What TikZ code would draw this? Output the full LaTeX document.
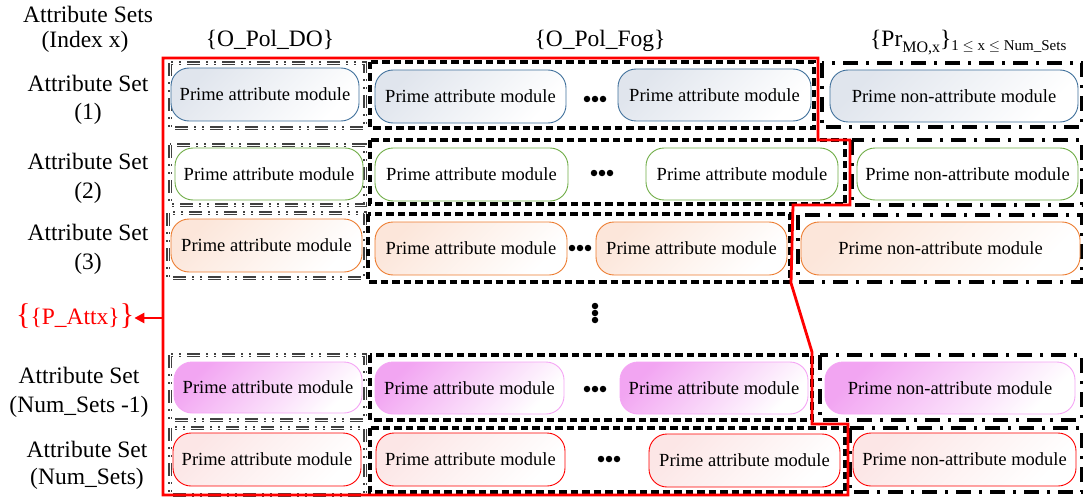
\documentclass[tikz,border=0pt]{standalone}
\usepackage{fontspec}
\setmainfont{Liberation Serif}
\usetikzlibrary{arrows.meta}

% outline and fill colours of the module rows
\definecolor{bdBlue}{RGB}{65,113,156}
\definecolor{fiBlue}{RGB}{224,229,237}
\definecolor{bdGreen}{RGB}{112,173,71}
\definecolor{bdOrange}{RGB}{237,125,49}
\definecolor{fiOrange}{RGB}{252,230,218}
\definecolor{bdPink}{RGB}{245,165,245}
\definecolor{fiPink}{RGB}{242,165,242}
\definecolor{bdRed}{RGB}{255,0,0}
\definecolor{fiRed}{RGB}{252,230,230}

\newcommand{\lblfont}{\fontsize{23.5}{28}\selectfont}
\newcommand{\modfont}{\fontsize{18.5}{22}\selectfont}

\tikzset{
  lbl/.style={anchor=base, inner sep=0pt, font=\lblfont},
  sz/.style 2 args={minimum width=#1pt, minimum height=#2pt},
  mod/.style={rectangle, rounded corners=18pt, line width=0.9pt, inner sep=0pt, font=\modfont},
  % tint fading from the upper left towards the lower right
  tint/.style 2 args={top color=#1, middle color=#2, bottom color=white, shading angle=45},
  rowA/.style={mod, draw=bdBlue, tint={fiBlue}{fiBlue!45!white}},
  rowB/.style={mod, draw=bdGreen, fill=white},
  rowC/.style={mod, draw=bdOrange, tint={fiOrange}{fiOrange!30!white}},
  rowD/.style={mod, draw=bdPink, tint={fiPink}{white}},
  rowE/.style={mod, draw=bdRed, tint={fiRed}{fiRed!30!white}},
  dobox/.style={draw=black!75, line width=1.7pt, double=white, double distance=0.9pt,
                dash pattern=on 13pt off 6pt on 2pt off 6pt on 2pt off 6pt},
  fogbox/.style={draw=black, line width=3.2pt, dash pattern=on 7.5pt off 4pt},
  prbox/.style={draw=black, line width=3.2pt, dash pattern=on 15pt off 8pt on 3pt off 8pt},
  redline/.style={draw=red, line width=2.8pt, line join=miter},
  dotmark/.style={circle, fill=black, inner sep=0pt, minimum size=6.5pt},
}

\begin{document}
\begin{tikzpicture}[x=1pt,y=-1pt]
\useasboundingbox (0,0) rectangle (1083,500);

% ---------- row labels ----------
\node[lbl] (ls0a) at (88,23)  {Attribute Sets};
\node[lbl] (ls0b) at (85,48)  {(Index x)};
\node[lbl] (ls1a) at (88,92)  {Attribute Set};
\node[lbl] (ls1b) at (88,120) {(1)};
\node[lbl] (ls2a) at (88,169) {Attribute Set};
\node[lbl] (ls2b) at (88,198) {(2)};
\node[lbl] (ls3a) at (88,240) {Attribute Set};
\node[lbl] (ls3b) at (88,269) {(3)};
\node[lbl] (ls4a) at (79,383) {Attribute Set};
\node[lbl] (ls4b) at (79,412) {(Num\_Sets -1)};
\node[lbl] (ls5a) at (87,457) {Attribute Set};
\node[lbl] (ls5b) at (87,484) {(Num\_Sets)};

% ---------- column headers ----------
\node[lbl] (hdo)  at (270,47) {\{O\_Pol\_DO\}};
\node[lbl] (hfog) at (600,47) {\{O\_Pol\_Fog\}};
\node[lbl, anchor=base west] (hpr) at (870,47)
  {\{Pr\raisebox{-6pt}{\fontsize{16}{16}\selectfont MO,x}\}\raisebox{-4pt}{\fontsize{15}{15}\selectfont 1 $\le$ x $\le$ Num\_Sets}};

% ---------- group frames ----------
\draw[dobox]  (170,63)  rectangle (365,128);
\draw[fogbox] (370,62)  rectangle (814,128);
\draw[prbox]  (822,63)  rectangle (1082,127);

\draw[dobox]  (170,145) rectangle (365,205);
\draw[fogbox] (370,140) rectangle (845,204);
\draw[prbox]  (852,140) rectangle (1082,205);

\draw[dobox]  (168,213) rectangle (365,278);
\draw[fogbox] (368,214) rectangle (790,282);
\draw[prbox]  (798,215) rectangle (1082,282);

\draw[dobox]  (170,355) rectangle (365,420);
\draw[fogbox] (370,355) rectangle (812,420);
\draw[prbox]  (820,355) rectangle (1082,420);

\draw[dobox]  (170,428) rectangle (365,495);
\draw[fogbox] (370,428) rectangle (845,492);
\draw[prbox]  (850,428) rectangle (1082,492);

% ---------- modules ----------
\node[rowA, sz={188}{53}] (m1a) at (265,94.5)   {Prime attribute module};
\node[rowA, sz={191}{53}] (m1b) at (470.5,96.5) {Prime attribute module};
\node[rowA, sz={193}{52}] (m1c) at (714.5,95)   {Prime attribute module};
\node[rowA, sz={248}{52}] (m1d) at (954,96)     {Prime non-attribute module};

\node[rowB, sz={188}{52}] (m2a) at (269,174)     {Prime attribute module};
\node[rowB, sz={193}{53}] (m2b) at (471.5,174.5) {Prime attribute module};
\node[rowB, sz={192}{52}] (m2c) at (742,174)     {Prime attribute module};
\node[rowB, sz={221}{52}] (m2d) at (967.5,174)   {Prime non-attribute module};

\node[rowC, sz={191}{53}] (m3a) at (266.5,245.5) {Prime attribute module};
\node[rowC, sz={192}{53}] (m3b) at (471,248.5)   {Prime attribute module};
\node[rowC, sz={191}{53}] (m3c) at (691.5,248.5) {Prime attribute module};
\node[rowC, sz={279}{53}] (m3d) at (940.5,248.5) {Prime non-attribute module};

\node[rowD, sz={188}{51}] (m4a) at (268,387.5) {Prime attribute module};
\node[rowD, sz={189}{52}] (m4b) at (469.5,388) {Prime attribute module};
\node[rowD, sz={188}{52}] (m4c) at (714,388)   {Prime attribute module};
\node[rowD, sz={250}{52}] (m4d) at (950,388)   {Prime non-attribute module};

\node[rowE, sz={188}{53}] (m5a) at (267,459.5)   {Prime attribute module};
\node[rowE, sz={189}{53}] (m5b) at (470.5,459.5) {Prime attribute module};
\node[rowE, sz={191}{53}] (m5c) at (744.5,460.5) {Prime attribute module};
\node[rowE, sz={223}{53}] (m5d) at (964.5,459.5) {Prime non-attribute module};

% ---------- ellipsis marks ----------
\foreach \x/\y/\n in {587/99/1, 594/173/2, 572/248/3, 587/389/4, 601/459/5}{
  \node[dotmark] (e\n a) at (\x,\y) {};
  \node[dotmark] (e\n b) at (\x+8,\y) {};
  \node[dotmark] (e\n c) at (\x+16,\y) {};
}
\node[dotmark] (va) at (595,306) {};
\node[dotmark] (vb) at (595,313) {};
\node[dotmark] (vc) at (595,320) {};

% ---------- selection outline and its label ----------
\draw[redline] (163,58) -- (818,58) -- (818,140) -- (850,140) -- (850,205)
  -- (793,205) -- (791,283) -- (812,352) -- (812,424) -- (848,424)
  -- (848,495) -- (163,495) -- cycle;
\node[lbl, anchor=base west, text=red] (pattx) at (16,324)
  {{\fontsize{30}{30}\selectfont\{}\{P\_Attx\}{\fontsize{30}{30}\selectfont\}}};
\coordinate (tap) at (163,318);
\draw[red, line width=2.5pt, -{Triangle[length=10pt,width=10pt]}] (tap) -- (pattx.east |- tap);
\end{tikzpicture}
\end{document}
